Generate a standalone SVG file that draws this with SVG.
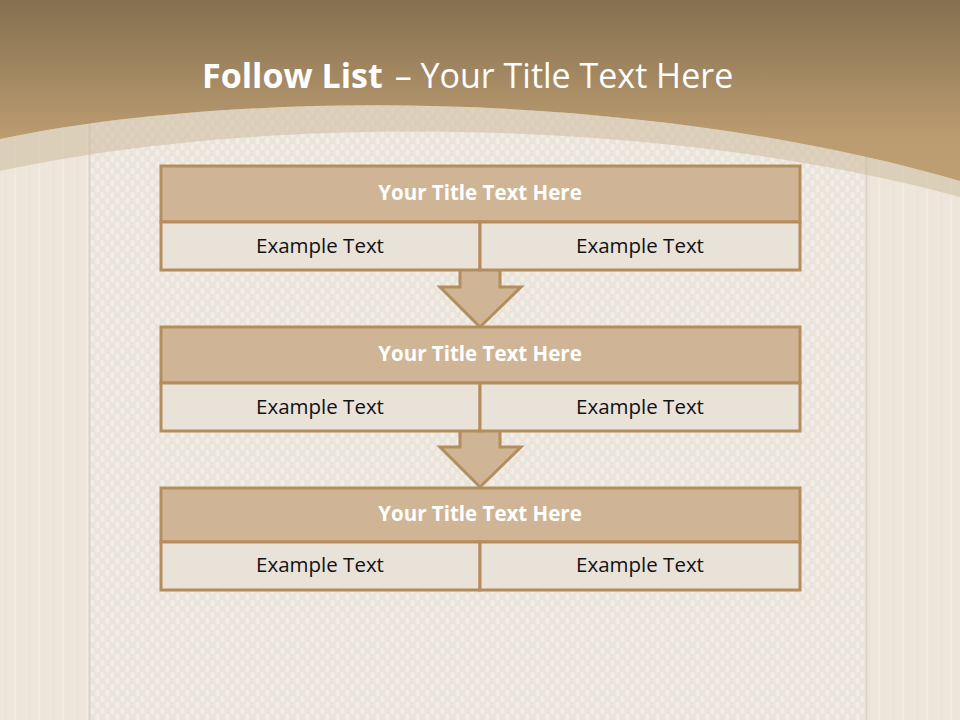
<svg xmlns="http://www.w3.org/2000/svg" width="960" height="720" viewBox="0 0 960 720">
<defs>
<linearGradient id="hdr" x1="0" y1="0" x2="0" y2="1" gradientUnits="objectBoundingBox">
<stop offset="0" stop-color="#84704f"/>
<stop offset="0.75" stop-color="#bb9b70"/>
<stop offset="1" stop-color="#be9e73"/>
</linearGradient>
<pattern id="weave" width="10" height="12" patternUnits="userSpaceOnUse">
<rect width="10" height="12" fill="#e9e3da"/>
<ellipse cx="2.5" cy="3" rx="2.3" ry="3.4" fill="#f1ede6"/>
<ellipse cx="7.5" cy="9" rx="2.3" ry="3.4" fill="#f1ede6"/>
<ellipse cx="7.5" cy="-3" rx="2.3" ry="3.4" fill="#f1ede6"/>
</pattern>
<pattern id="wood" width="24" height="720" patternUnits="userSpaceOnUse">
<rect width="24" height="720" fill="#eee6da"/>
<rect x="5" width="1" height="720" fill="#e7ddcf" opacity="0.5"/>
<rect x="14" width="2" height="720" fill="#f2ece2" opacity="0.6"/>
<rect x="20" width="1" height="720" fill="#e8dfd1" opacity="0.4"/>
</pattern>
<style>
.frame{stroke:#b48d5c;stroke-width:3}
.ttl{fill:#cfb595}
.cell{fill:#e9e2d9}
.ht{font-family:"Open Sans","Liberation Sans",sans-serif;font-weight:bold;font-size:20.5px;fill:#ffffff;text-anchor:middle}
.bt{font-family:"Open Sans","Liberation Sans",sans-serif;font-size:20.5px;fill:#111111;text-anchor:middle}
.arrow{fill:#cfb595;stroke:#b48d5c;stroke-width:3;stroke-linejoin:miter}
</style>
</defs>
<!-- background -->
<rect width="960" height="720" fill="url(#wood)"/>
<rect x="90" y="0" width="776" height="720" fill="url(#weave)"/>
<line x1="89.5" y1="0" x2="89.5" y2="720" stroke="#dad4cb" stroke-width="2"/>
<line x1="866.5" y1="0" x2="866.5" y2="720" stroke="#dad4cb" stroke-width="2"/>
<!-- translucent band -->
<path d="M0,139 C250,87 650,91 960,181 V197 C650,113 250,116 0,171 Z" fill="#cdbb9f" opacity="0.55"/>
<!-- header -->
<path d="M0,0 H960 V181 C650,91 250,87 0,139 Z" fill="url(#hdr)"/>
<text x="202" y="88" font-family="Open Sans,Liberation Sans,sans-serif" font-size="34" fill="#ffffff"><tspan font-weight="bold">Follow List</tspan><tspan dx="12">– Your Title Text Here</tspan></text>

<g id="connectors">
<path class="arrow" d="M460,271 V287 H440 L480,327 L521,287 H500 V271"/>
<path class="arrow" d="M460,432 V447 H440 L480,487 L521,447 H500 V432"/>
</g>

<g id="node1">
<rect class="ttl frame" x="161" y="166" width="639" height="56"/>
<rect class="cell frame" x="161" y="222" width="319" height="48"/>
<rect class="cell frame" x="480" y="222" width="320" height="48"/>
<text class="ht" x="480" y="200">Your Title Text Here</text>
<text class="bt" x="320" y="253">Example Text</text>
<text class="bt" x="640" y="253">Example Text</text>
</g>
<g id="node2">
<rect class="ttl frame" x="161" y="327" width="639" height="56"/>
<rect class="cell frame" x="161" y="383" width="319" height="48"/>
<rect class="cell frame" x="480" y="383" width="320" height="48"/>
<text class="ht" x="480" y="361">Your Title Text Here</text>
<text class="bt" x="320" y="414">Example Text</text>
<text class="bt" x="640" y="414">Example Text</text>
</g>
<g id="node3">
<rect class="ttl frame" x="161" y="488" width="639" height="54"/>
<rect class="cell frame" x="161" y="542" width="319" height="48"/>
<rect class="cell frame" x="480" y="542" width="320" height="48"/>
<text class="ht" x="480" y="521">Your Title Text Here</text>
<text class="bt" x="320" y="572">Example Text</text>
<text class="bt" x="640" y="572">Example Text</text>
</g>
</svg>
